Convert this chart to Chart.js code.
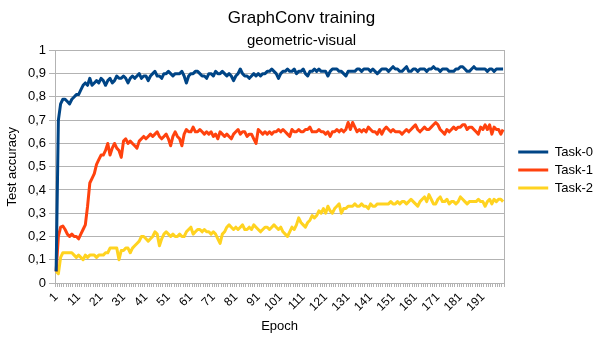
<!DOCTYPE html>
<html>
<head>
<meta charset="utf-8">
<script src="https://cdn.jsdelivr.net/npm/chart.js@4.4.1/dist/chart.umd.min.js"></script>
<style>
  body { margin: 0; background: #fff; }
  #wrap { width: 605px; height: 340px; }
</style>
</head>
<body>
<div id="wrap"><canvas id="trainChart"></canvas></div>
<script>
// epochs 1..200
const epochs = Array.from({ length: 200 }, (_, i) => String(i + 1));

const task0 = [
  0.05,0.70,0.77,0.79,0.79,0.78,0.77,0.79,0.80,0.81,
  0.81,0.83,0.85,0.86,0.85,0.88,0.85,0.86,0.87,0.86,
  0.88,0.87,0.85,0.87,0.88,0.86,0.87,0.89,0.88,0.88,
  0.89,0.88,0.86,0.88,0.89,0.88,0.89,0.90,0.88,0.89,
  0.89,0.87,0.89,0.90,0.91,0.89,0.89,0.88,0.90,0.90,
  0.91,0.90,0.89,0.90,0.90,0.90,0.91,0.89,0.86,0.89,
  0.90,0.90,0.91,0.91,0.90,0.89,0.89,0.88,0.90,0.90,
  0.89,0.91,0.90,0.90,0.91,0.90,0.89,0.90,0.89,0.87,
  0.89,0.90,0.92,0.90,0.89,0.89,0.88,0.89,0.90,0.89,
  0.90,0.89,0.90,0.90,0.91,0.91,0.92,0.91,0.90,0.88,
  0.90,0.91,0.91,0.92,0.91,0.91,0.92,0.90,0.91,0.91,
  0.92,0.90,0.89,0.91,0.91,0.92,0.91,0.92,0.91,0.91,
  0.91,0.89,0.91,0.92,0.92,0.92,0.91,0.91,0.90,0.89,
  0.91,0.91,0.91,0.91,0.92,0.92,0.91,0.92,0.92,0.92,
  0.91,0.92,0.91,0.90,0.91,0.92,0.92,0.92,0.91,0.92,
  0.93,0.92,0.92,0.91,0.91,0.92,0.93,0.91,0.91,0.92,
  0.92,0.91,0.92,0.92,0.92,0.91,0.92,0.92,0.93,0.92,
  0.92,0.91,0.92,0.92,0.92,0.91,0.91,0.91,0.92,0.92,
  0.93,0.93,0.92,0.91,0.91,0.92,0.93,0.92,0.92,0.92,
  0.92,0.92,0.91,0.92,0.92,0.91,0.92,0.92,0.92,0.92
];

const task1 = [
  0.05,0.20,0.24,0.245,0.23,0.21,0.20,0.21,0.20,0.20,
  0.19,0.21,0.23,0.25,0.33,0.43,0.45,0.47,0.51,0.53,
  0.55,0.55,0.57,0.60,0.55,0.58,0.60,0.58,0.57,0.54,
  0.61,0.62,0.60,0.61,0.60,0.59,0.58,0.61,0.62,0.63,
  0.62,0.63,0.64,0.63,0.64,0.65,0.63,0.62,0.63,0.64,
  0.62,0.59,0.63,0.65,0.63,0.62,0.59,0.64,0.66,0.65,
  0.65,0.67,0.65,0.65,0.66,0.65,0.64,0.65,0.64,0.65,
  0.63,0.64,0.62,0.65,0.64,0.63,0.64,0.63,0.62,0.64,
  0.65,0.66,0.64,0.65,0.65,0.63,0.64,0.64,0.62,0.60,
  0.66,0.65,0.64,0.65,0.64,0.65,0.64,0.65,0.65,0.66,
  0.65,0.66,0.65,0.64,0.63,0.66,0.65,0.65,0.66,0.65,
  0.65,0.66,0.66,0.67,0.65,0.65,0.65,0.66,0.65,0.65,
  0.64,0.65,0.63,0.65,0.65,0.66,0.65,0.66,0.65,0.66,
  0.69,0.66,0.69,0.67,0.65,0.66,0.65,0.66,0.65,0.67,
  0.66,0.65,0.65,0.64,0.66,0.64,0.66,0.67,0.66,0.65,
  0.66,0.65,0.65,0.65,0.64,0.65,0.66,0.65,0.66,0.67,
  0.68,0.66,0.65,0.66,0.67,0.66,0.66,0.67,0.68,0.69,
  0.68,0.66,0.65,0.64,0.66,0.65,0.66,0.67,0.66,0.67,
  0.67,0.68,0.68,0.66,0.67,0.67,0.66,0.65,0.64,0.67,
  0.66,0.68,0.66,0.68,0.64,0.67,0.66,0.66,0.64,0.66
];

const task2 = [
  0.05,0.04,0.11,0.13,0.13,0.13,0.13,0.13,0.12,0.11,
  0.12,0.11,0.10,0.12,0.11,0.12,0.12,0.12,0.11,0.12,
  0.12,0.12,0.13,0.13,0.15,0.15,0.15,0.15,0.10,0.14,
  0.14,0.15,0.15,0.13,0.15,0.16,0.17,0.18,0.20,0.20,
  0.19,0.18,0.19,0.20,0.22,0.21,0.16,0.19,0.21,0.22,
  0.21,0.20,0.21,0.20,0.20,0.21,0.20,0.20,0.22,0.23,
  0.24,0.21,0.22,0.23,0.23,0.22,0.23,0.22,0.22,0.21,
  0.22,0.21,0.19,0.17,0.21,0.22,0.24,0.25,0.24,0.23,
  0.24,0.23,0.24,0.25,0.23,0.23,0.24,0.23,0.25,0.24,
  0.23,0.22,0.23,0.24,0.24,0.23,0.24,0.25,0.24,0.23,
  0.24,0.22,0.21,0.20,0.22,0.24,0.23,0.25,0.28,0.26,
  0.25,0.24,0.26,0.27,0.29,0.28,0.29,0.31,0.30,0.32,
  0.30,0.33,0.31,0.30,0.32,0.33,0.34,0.30,0.32,0.32,
  0.33,0.33,0.33,0.34,0.33,0.33,0.34,0.33,0.33,0.32,
  0.34,0.33,0.33,0.34,0.34,0.34,0.34,0.34,0.34,0.35,
  0.34,0.34,0.35,0.34,0.35,0.35,0.34,0.35,0.36,0.35,
  0.34,0.33,0.35,0.36,0.37,0.35,0.38,0.36,0.34,0.34,
  0.36,0.37,0.35,0.35,0.36,0.34,0.35,0.35,0.34,0.35,
  0.37,0.36,0.35,0.34,0.35,0.35,0.35,0.35,0.36,0.35,
  0.35,0.33,0.35,0.36,0.34,0.36,0.35,0.36,0.36,0.35
];

const seriesNames = ['Task-0', 'Task-1', 'Task-2'];
const seriesColors = ['#004586', '#ff420e', '#ffd320'];

const gridColor = '#b3b3b3';
const fontFamily = '"Liberation Sans", Arial, sans-serif';

function lineSet(i, values) {
  return {
    label: seriesNames[i],
    data: values,
    borderColor: seriesColors[i],
    backgroundColor: seriesColors[i],
    borderWidth: 3,
    borderJoinStyle: 'round',
    pointRadius: 0,
    pointHoverRadius: 0,
    tension: 0,
    fill: false
  };
}

const ctx = document.getElementById('trainChart').getContext('2d');

new Chart(ctx, {
  type: 'line',
  data: {
    labels: epochs,
    datasets: [lineSet(0, task0), lineSet(1, task1), lineSet(2, task2)]
  },
  options: {
    responsive: true,
    maintainAspectRatio: false,
    animation: false,
    layout: { padding: { left: 0, right: 2, top: 0, bottom: 0 } },
    plugins: {
      title: {
        display: true,
        text: 'GraphConv training',
        color: '#000',
        font: { family: fontFamily, size: 17, weight: 'normal' },
        padding: { top: 8, bottom: 0 }
      },
      subtitle: {
        display: true,
        text: 'geometric-visual',
        color: '#000',
        font: { family: fontFamily, size: 15, weight: 'normal' },
        padding: { top: 3, bottom: 1 }
      },
      legend: {
        position: 'right',
        labels: {
          usePointStyle: true,
          pointStyle: 'line',
          pointStyleWidth: 30,
          padding: 5,
          color: '#000',
          font: { family: fontFamily, size: 13 }
        }
      },
      tooltip: { enabled: false }
    },
    scales: {
      x: {
        offset: true,
        grid: {
          offset: true,
          drawOnChartArea: false,
          color: gridColor,
          tickLength: 4
        },
        border: { color: gridColor },
        ticks: {
          autoSkip: false,
          maxRotation: 45,
          minRotation: 45,
          color: '#000',
          font: { family: fontFamily, size: 12 },
          callback: function (val, idx) {
            return idx % 10 === 0 ? this.getLabelForValue(val) : '';
          }
        },
        title: {
          display: true,
          text: 'Epoch',
          color: '#000',
          font: { family: fontFamily, size: 13 },
          padding: { top: 2, bottom: 6 }
        },
        afterFit: s => { s.height = 57; }
      },
      y: {
        min: 0,
        max: 1,
        grid: { color: gridColor, tickLength: 6 },
        border: { color: gridColor },
        ticks: {
          stepSize: 0.1,
          color: '#000',
          padding: 3,
          font: { family: fontFamily, size: 13 },
          callback: v => String(Math.round(v * 10) / 10).replace('.', ',')
        },
        title: {
          display: true,
          text: 'Test accuracy',
          color: '#000',
          font: { family: fontFamily, size: 13 },
          padding: { top: 5, bottom: 0 }
        },
        afterFit: s => { s.width = 55; }
      },
      y2: {
        position: 'right',
        min: 0,
        max: 1,
        grid: { drawOnChartArea: false, drawTicks: false },
        border: { color: gridColor },
        ticks: { display: false },
        afterFit: s => { s.width = 9; }
      }
    }
  }
});
</script>
</body>
</html>
